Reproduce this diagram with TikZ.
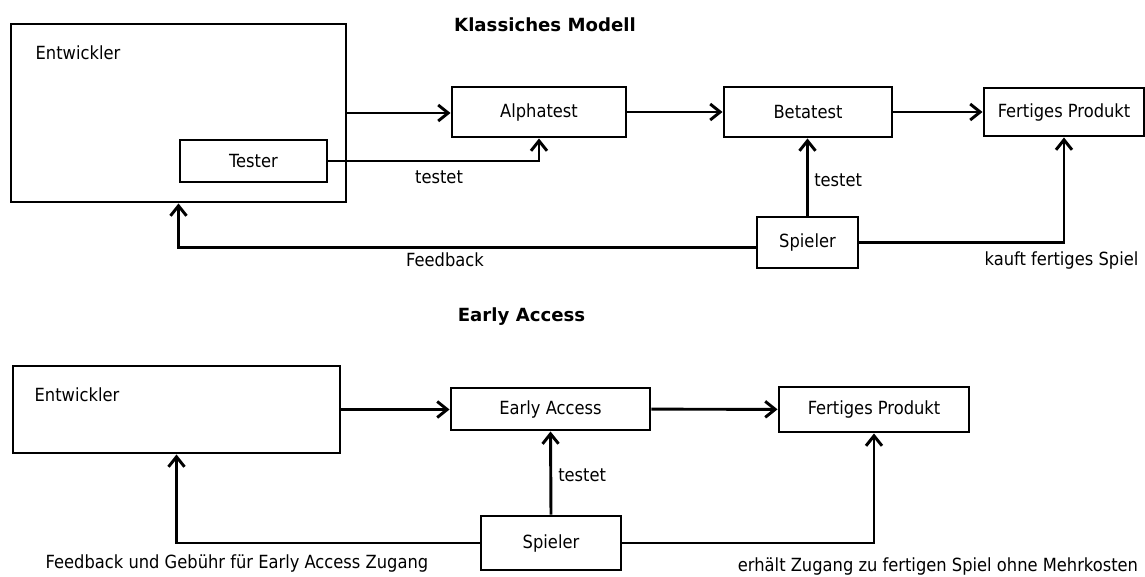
\documentclass[tikz,border=0pt]{standalone}
\usepackage{fontspec}
\setmainfont{DejaVu Sans Condensed}
\newfontfamily\ttlfont{DejaVu Sans}
\usetikzlibrary{arrows.meta, positioning, calc}

\tikzset{
  box/.style={draw, line width=2.2pt, inner sep=0pt, align=center},
  arr/.style={-{Straight Barb[length=7.5pt, width=12pt]}, line width=2.2pt},
  lbl/.style={inner sep=0pt},
  ttl/.style={inner sep=0pt, font=\fontsize{13.6}{16}\ttlfont\bfseries}
}

\begin{document}
\begin{tikzpicture}[x=0.75pt, y=-0.75pt, font=\fontsize{13.6}{16}\selectfont]
  \useasboundingbox (0,0) rectangle (1145,576);

  % Klassiches Modell
  \node[ttl] (ttlkm) at (545, 25) {Klassiches Modell};

  \node[box, minimum width=251.25pt, minimum height=133.5pt] (entw) at (178.5, 113) {};
  \node[lbl] (entwlbl) at (78, 53) {Entwickler};
  \node[box, minimum width=110.25pt, minimum height=31.5pt] (tester) at (253.5, 161) {Tester};
  \node[box, minimum width=130.5pt, minimum height=37.5pt] (alpha) at (539, 112) {Alphatest};
  \node[box, minimum width=126pt, minimum height=37.5pt] (beta) at (808, 112) {Betatest};
  \node[box, minimum width=120pt, minimum height=36pt] (fertig) at (1064, 112) {Fertiges Produkt};
  \node[box, minimum width=75.75pt, minimum height=38.25pt] (spieler) at (807.5, 242.5) {Spieler};

  \draw[arr] (entw.east) -- (entw.east -| alpha.west);
  \draw[arr] (alpha) -- (beta);
  \draw[arr] (beta) -- (fertig);
  \draw[arr] (tester.east) -| (alpha.south);
  \draw[arr] (spieler.north) -- (spieler.north |- beta.south);
  \draw[arr] ([yshift=-3.4pt]spieler.west) -| (entw.south);
  \draw[arr] (spieler.east) -| (fertig.south);

  \node[lbl] (lbltest) at (439, 177) {testet};
  \node[lbl, anchor=west] (lblbeta) at (814, 180) {testet};
  \node[lbl] (lblfb) at (445, 260) {Feedback};
  \node[lbl] (lblkauf) at (1061.5, 260) {kauft fertiges Spiel};

  % Early Access
  \node[ttl] (ttlea) at (521.5, 317) {Early Access};

  \node[box, minimum width=245.25pt, minimum height=65.25pt] (entwea) at (176.5, 409.5) {};
  \node[lbl] (entwealbl) at (77, 395) {Entwickler};
  \node[box, minimum width=149.25pt, minimum height=31.5pt] (ea) at (550.5, 409) {Early Access};
  \node[box, minimum width=142.5pt, minimum height=33.75pt] (fertigea) at (874, 409.5) {Fertiges Produkt};
  \node[box, minimum width=105pt, minimum height=40.5pt] (spielerea) at (551, 543) {Spieler};

  \draw[arr] (entwea.east) -- (entwea.east -| ea.west);
  \draw[arr] (ea) -- (fertigea);
  \draw[arr] (spielerea.north) -- (ea.south);
  \draw[arr] (spielerea.west) -| (entwea.south);
  \draw[arr] (spielerea.east) -| (fertigea.south);

  \node[lbl, anchor=west] (lbleatest) at (558, 475) {testet};
  \node[lbl] (lblgeb) at (237, 563) {Feedback und Gebühr für Early Access Zugang};
  \node[lbl] (lblzug) at (938, 566) {erhält Zugang zu fertigen Spiel ohne Mehrkosten};
\end{tikzpicture}
\end{document}
